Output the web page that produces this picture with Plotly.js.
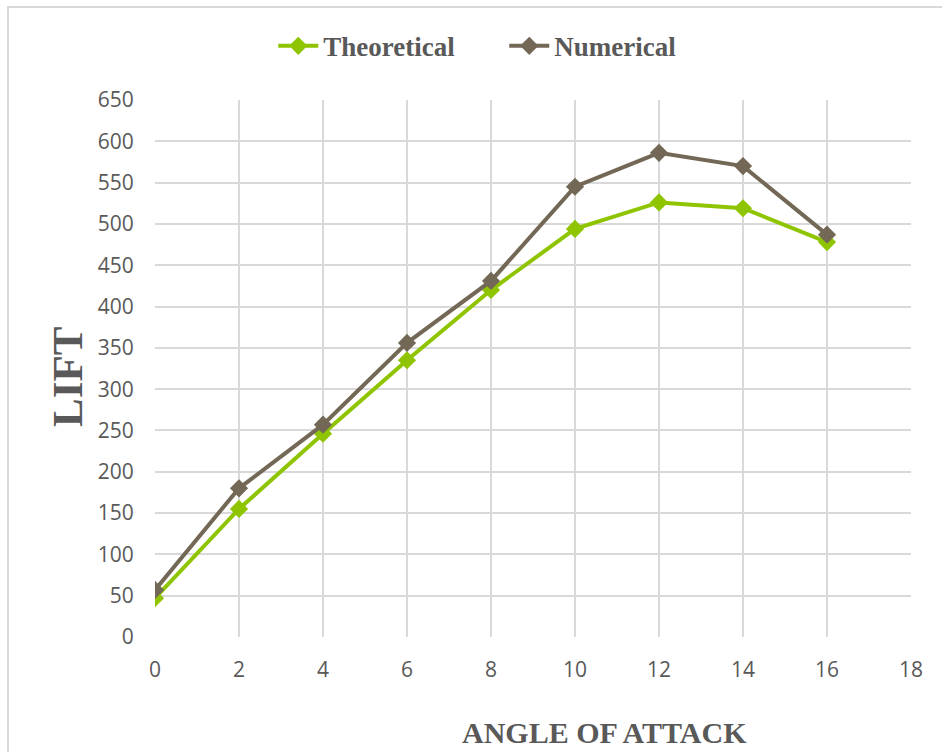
<!DOCTYPE html>
<html>
<head>
<meta charset="utf-8">
<script src="https://cdn.plot.ly/plotly-3.0.1.min.js"></script>
<style>
html,body{margin:0;padding:0;background:#fff;}
#chart{width:942px;height:752px;}
</style>
</head>
<body>
<div id="chart"></div>
<script>
const angles = [0, 2, 4, 6, 8, 10, 12, 14, 16];
const theoretical = [47, 155, 246, 335, 420, 494, 526, 519, 478];
const numerical = [57, 180, 257, 356, 431, 545, 586, 570, 487];
const seriesNames = ["Theoretical", "Numerical"];
const xTicks = [0, 2, 4, 6, 8, 10, 12, 14, 16, 18];
const yTicks = [0, 50, 100, 150, 200, 250, 300, 350, 400, 450, 500, 550, 600, 650];

const green = "#8fc400";
const brown = "#736856";

const traces = [
  {x: angles, y: theoretical, name: seriesNames[0], type: "scatter", mode: "lines+markers",
   line: {color: green, width: 4}, marker: {symbol: "diamond", size: 14, color: green}},
  {x: angles, y: numerical, name: seriesNames[1], type: "scatter", mode: "lines+markers",
   line: {color: brown, width: 4}, marker: {symbol: "diamond", size: 14, color: brown}}
];

const tickFont = {family: "Open Sans, sans-serif", size: 21, color: "#595959"};
const serifBold = "Liberation Serif, Times New Roman, serif";

const layout = {
  width: 942, height: 752,
  margin: {l: 155, r: 31, t: 100, b: 115},
  paper_bgcolor: "#fff", plot_bgcolor: "#fff",
  showlegend: true,
  legend: {orientation: "h", x: 0.462, xanchor: "center", y: 1.1, yanchor: "middle",
    font: {family: serifBold, size: 27, color: "#595959", weight: "bold"},
    itemwidth: 40, entrywidth: 176, entrywidthmode: "pixels", tracegroupgap: 0},
  xaxis: {range: [0, 18], tickvals: xTicks, ticktext: xTicks.map(String), tickfont: tickFont,
    showgrid: true, gridcolor: "#d9d9d9", gridwidth: 2, zeroline: false, showline: false,
    ticks: "outside", ticklen: 14, tickcolor: "rgba(0,0,0,0)", fixedrange: true},
  yaxis: {range: [0, 650], tickvals: yTicks, ticktext: yTicks.map(String), tickfont: tickFont,
    showgrid: true, gridcolor: "#d9d9d9", gridwidth: 2, zeroline: false, showline: false,
    ticks: "outside", ticklen: 16, tickcolor: "rgba(0,0,0,0)", fixedrange: true},
  shapes: [
    {type: "rect", xref: "paper", yref: "paper",
     x0: (8 - 155) / 756, x1: (960 - 155) / 756,
     y0: (637 - 770) / 537, y1: (637 - 7) / 537,
     line: {color: "#d9d9d9", width: 2}, fillcolor: "rgba(0,0,0,0)", layer: "below"}
  ],
  annotations: [
    {text: "<b>ANGLE OF ATTACK</b>", xref: "paper", yref: "paper",
     x: (604 - 155) / 756, y: (637 - 751) / 537, xanchor: "center", yanchor: "bottom",
     showarrow: false, font: {family: serifBold, size: 30, color: "#595959"}},
    {text: "<b>LIFT</b>", xref: "paper", yref: "paper",
     x: (67 - 155) / 756, y: (637 - 377) / 537, xanchor: "center", yanchor: "middle",
     textangle: -90, showarrow: false, font: {family: serifBold, size: 43, color: "#595959"}}
  ]
};

Plotly.newPlot("chart", traces, layout, {displayModeBar: false, staticPlot: true});
</script>
</body>
</html>
